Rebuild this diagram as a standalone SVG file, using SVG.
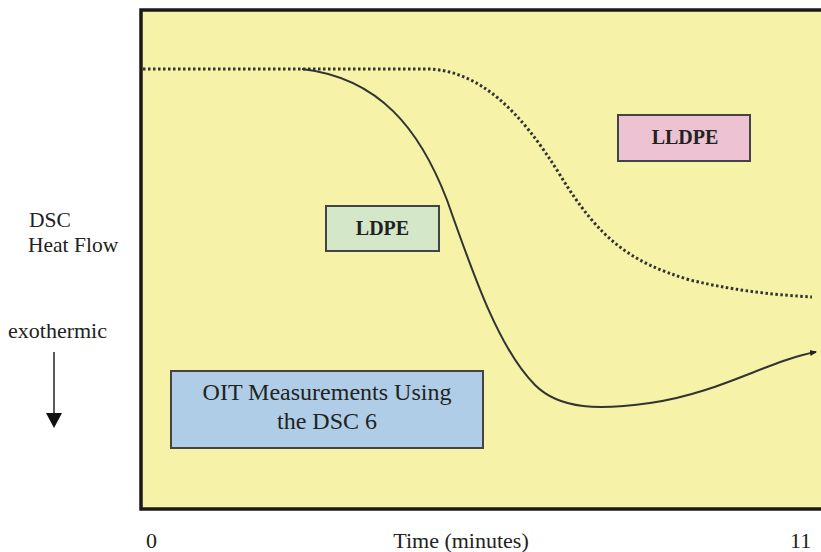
<svg xmlns="http://www.w3.org/2000/svg" width="821" height="552" viewBox="0 0 821 552">
<style>
.t{font-family:"Liberation Serif","Times New Roman",serif;fill:#222}
.lbl{font-family:"Liberation Serif","Times New Roman",serif;font-weight:bold;font-size:20px;fill:#222}
.box{stroke:#444;stroke-width:2}
</style>
<defs>
<marker id="ah" markerWidth="8" markerHeight="8" refX="6" refY="4" orient="auto" markerUnits="userSpaceOnUse">
<path d="M0,1 L7,4 L0,7 Z" fill="#222"/>
</marker>
</defs>
<rect width="821" height="552" fill="#fff"/>
<g id="plot">
<rect x="141" y="10" width="690" height="499" fill="#F6F2A8" stroke="#1a1a1a" stroke-width="3.5"/>
</g>
<g id="connectors" fill="none">
<path d="M143,69 L430,69 C480,72 520,110 560,175 C600,240 630,262 690,280 C740,292 780,295 812,297" stroke="#333" stroke-width="3" stroke-dasharray="2.5,2.5"/>
<path d="M302,69 C380,78 420,130 447,200 C475,280 500,350 535,385 C560,410 600,410 650,403 C720,393 770,360 816,352" stroke="#333" stroke-width="2" marker-end="url(#ah)"/>
<path d="M54,352 L54,414" stroke="#222" stroke-width="1.5"/>
<polygon points="46,413 62,413 54,428" fill="#111"/>
</g>
<g id="ldpe">
<rect class="box" x="326" y="206" width="113" height="45" fill="#D4E7C8"/>
<text class="lbl" x="382.5" y="235" text-anchor="middle">LDPE</text>
</g>
<g id="lldpe">
<rect class="box" x="618" y="115" width="132" height="46" fill="#EDC2D2"/>
<text class="lbl" x="685" y="144" text-anchor="middle" font-size="21">LLDPE</text>
</g>
<g id="oit">
<rect class="box" x="171" y="371" width="312" height="77" fill="#AFCDE6"/>
<text class="t" x="327" y="400" font-size="24" text-anchor="middle">OIT Measurements Using</text>
<text class="t" x="327" y="429" font-size="24" text-anchor="middle">the DSC 6</text>
</g>
<g id="axis-labels">
<text class="t" x="29" y="227" font-size="21.5">DSC</text>
<text class="t" x="28" y="252" font-size="21.5">Heat Flow</text>
<text class="t" x="8" y="338" font-size="22">exothermic</text>
<text class="t" x="146" y="548" font-size="22">0</text>
<text class="t" x="461" y="548" font-size="22" text-anchor="middle">Time (minutes)</text>
<text class="t" x="790" y="548" font-size="22">11</text>
</g>
</svg>
